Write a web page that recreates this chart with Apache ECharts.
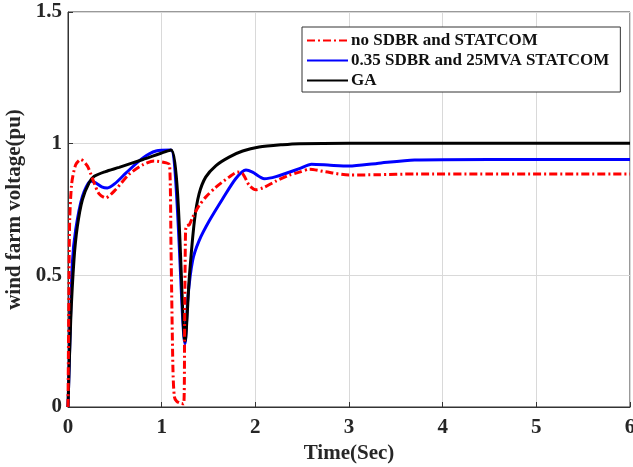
<!DOCTYPE html>
<html>
<head>
<meta charset="utf-8">
<script src="https://cdn.jsdelivr.net/npm/echarts@6/dist/echarts.min.js"></script>
<style>
  html, body { margin: 0; padding: 0; background: #fff; }
  #chart { width: 633px; height: 467px; }
</style>
</head>
<body>
<div id="chart"></div>
<script>
// Wind farm terminal voltage during a fault, three compensation cases
const seriesNames = ['no SDBR and STATCOM', '0.35 SDBR and 25MVA STATCOM', 'GA'];

const tNone = [0, 0.01, 0.018, 0.04, 0.082, 0.136, 0.207, 0.28, 0.33, 0.40, 0.51, 0.65, 0.80, 0.92, 1.05, 1.085,
  1.10, 1.12, 1.135, 1.16, 1.20, 1.235, 1.245, 1.255, 1.267, 1.295, 1.33, 1.40, 1.47, 1.58, 1.72, 1.81, 1.865,
  1.936, 2.007, 2.08, 2.22, 2.36, 2.47, 2.58, 2.75, 3.0, 3.3, 3.7, 4.5, 6.0];
const vNone = [0, 0.45, 0.71, 0.85, 0.92, 0.94, 0.915, 0.85, 0.81, 0.794, 0.826, 0.883, 0.92, 0.934, 0.927, 0.92,
  0.6, 0.15, 0.04, 0.022, 0.014, 0.012, 0.3, 0.67, 0.689, 0.692, 0.72, 0.765, 0.797, 0.835, 0.873, 0.892, 0.886,
  0.841, 0.825, 0.832, 0.858, 0.88, 0.892, 0.903, 0.893, 0.881, 0.882, 0.885, 0.885, 0.885];

const tSdbr = [0, 0.02, 0.046, 0.082, 0.154, 0.243, 0.30, 0.36, 0.42, 0.50, 0.62, 0.80, 0.94, 1.1, 1.25, 1.28,
  1.33, 1.40, 1.51, 1.65, 1.79, 1.90, 1.97, 2.096, 2.22, 2.47, 2.6, 2.8, 3.0, 3.3, 3.7, 4.5, 6.0];
const vSdbr = [0, 0.25, 0.546, 0.673, 0.80, 0.858, 0.85, 0.836, 0.832, 0.848, 0.889, 0.946, 0.972, 0.976, 0.24, 0.416,
  0.556, 0.632, 0.708, 0.79, 0.867, 0.90, 0.892, 0.867, 0.875, 0.905, 0.922, 0.918, 0.915, 0.925, 0.938, 0.94, 0.94];

const tGa = [0, 0.029, 0.064, 0.1, 0.154, 0.225, 0.28, 0.40, 0.546, 0.80, 1.1, 1.25, 1.295, 1.35, 1.40, 1.47,
  1.58, 1.72, 1.865, 2.04, 2.29, 2.47, 3.0, 6.0];
const vGa = [0, 0.33, 0.56, 0.686, 0.788, 0.851, 0.876, 0.894, 0.91, 0.94, 0.976, 0.25, 0.492, 0.708, 0.81, 0.873,
  0.917, 0.949, 0.972, 0.987, 0.996, 1.0, 1.002, 1.002];

const xTicks = [0, 1, 2, 3, 4, 5, 6];
const yTicks = [0, 0.5, 1, 1.5];

const pairs = (t, v) => t.map((x, i) => [x, v[i]]);

const font = '"Liberation Serif", "Times New Roman", serif';
const axisText = { color: '#262626', fontFamily: font, fontWeight: 'bold', fontSize: 21 };

const chart = echarts.init(document.getElementById('chart'), null, { renderer: 'canvas' });
chart.setOption({
  animation: false,
  backgroundColor: '#fff',
  grid: {
    left: 68, right: 3, top: 12, bottom: 60,
    containLabel: false, outerBoundsMode: 'none',
    show: true, borderColor: '#333', borderWidth: 1
  },
  legend: {
    orient: 'vertical',
    left: 302, top: 27,
    padding: [5, 11, 3, 4],
    itemWidth: 41, itemHeight: 14, itemGap: 3,
    borderColor: '#333', borderWidth: 1,
    backgroundColor: '#fff',
    itemStyle: { opacity: 0 },
    textStyle: { fontFamily: font, fontWeight: 'bold', fontSize: 17, color: '#111', padding: [0, 0, 0, -2], lineHeight: 17 },
    data: seriesNames
  },
  xAxis: {
    type: 'value', min: xTicks[0], max: xTicks[xTicks.length - 1], interval: 1,
    name: 'Time(Sec)', nameLocation: 'middle', nameGap: 34,
    nameTextStyle: axisText,
    axisLine: { lineStyle: { color: '#333' } },
    axisTick: { inside: true, length: 5, lineStyle: { color: '#333' } },
    axisLabel: Object.assign({ margin: 10 }, axisText),
    splitLine: { show: true, lineStyle: { color: '#d9d9d9' } }
  },
  yAxis: {
    type: 'value', min: yTicks[0], max: yTicks[yTicks.length - 1], interval: 0.5,
    name: 'wind farm voltage(pu)', nameLocation: 'middle', nameGap: 33,
    nameTextStyle: axisText,
    axisLine: { show: true, lineStyle: { color: '#333' } },
    axisTick: { show: true, inside: true, length: 5, lineStyle: { color: '#333' } },
    axisLabel: Object.assign({ margin: 6 }, axisText),
    splitLine: { show: true, lineStyle: { color: '#d9d9d9' } }
  },
  series: [
    {
      name: seriesNames[0], type: 'line', data: pairs(tNone, vNone), z: 4,
      showSymbol: false, symbol: 'none', smooth: 0.25,
      lineStyle: { color: '#ff0000', width: 3, type: [8, 3, 2, 3] },
      itemStyle: { color: '#ff0000' }
    },
    {
      name: seriesNames[1], type: 'line', data: pairs(tSdbr, vSdbr), z: 2,
      showSymbol: false, symbol: 'none', smooth: 0.25,
      lineStyle: { color: '#0000ff', width: 3 },
      itemStyle: { color: '#0000ff' }
    },
    {
      name: seriesNames[2], type: 'line', data: pairs(tGa, vGa), z: 3,
      showSymbol: false, symbol: 'none', smooth: 0.25,
      lineStyle: { color: '#000000', width: 3 },
      itemStyle: { color: '#000000' }
    }
  ]
});
</script>
</body>
</html>
